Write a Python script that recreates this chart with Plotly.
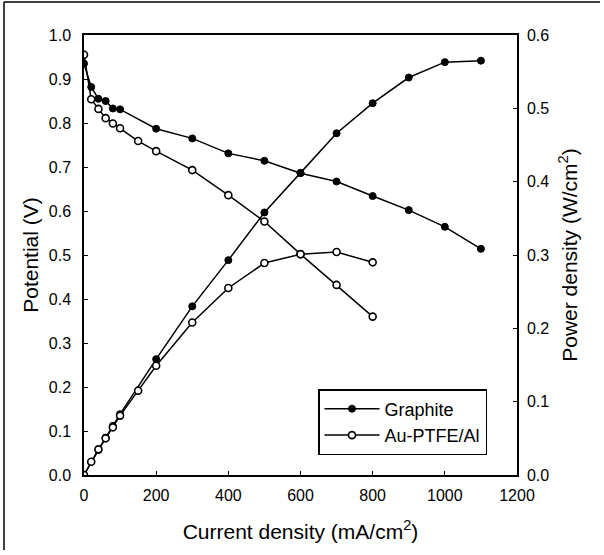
import plotly.graph_objects as go

# Current density (mA/cm2)
graphite_i = [0, 20, 40, 60, 80, 100, 200, 300, 400, 500, 600, 700, 800, 900, 1000, 1100]
graphite_v = [0.935, 0.882, 0.855, 0.850, 0.833, 0.831, 0.787, 0.765, 0.731, 0.714, 0.686, 0.667, 0.634, 0.602, 0.564, 0.514]
graphite_p = [0.0, 0.018, 0.034, 0.051, 0.067, 0.083, 0.158, 0.230, 0.293, 0.358, 0.412, 0.466, 0.507, 0.542, 0.563, 0.565]

au_i = [0, 20, 40, 60, 80, 100, 150, 200, 300, 400, 500, 600, 700, 800]
au_v = [0.955, 0.854, 0.832, 0.811, 0.799, 0.788, 0.759, 0.736, 0.693, 0.636, 0.576, 0.502, 0.432, 0.360]
au_p = [0.0, 0.018, 0.035, 0.050, 0.065, 0.081, 0.115, 0.149, 0.208, 0.255, 0.289, 0.301, 0.304, 0.290]

x_ticks = [0, 200, 400, 600, 800, 1000, 1200]
v_ticks = [0.0, 0.1, 0.2, 0.3, 0.4, 0.5, 0.6, 0.7, 0.8, 0.9, 1.0]
p_ticks = [0.0, 0.1, 0.2, 0.3, 0.4, 0.5, 0.6]

FONT = "Liberation Sans, Arial, sans-serif"
line = dict(color="black", width=1.5)
filled = dict(symbol="circle", size=7, color="black", line=dict(color="black", width=1))
opened = dict(symbol="circle", size=7, color="white", line=dict(color="black", width=1.6))

fig = go.Figure()
fig.add_trace(go.Scatter(x=graphite_i, y=graphite_v, mode="lines+markers", name="Graphite",
                         line=line, marker=filled, legendgroup="g"))
fig.add_trace(go.Scatter(x=au_i, y=au_v, mode="lines+markers", name="Au-PTFE/Al",
                         line=line, marker=opened, legendgroup="a"))
fig.add_trace(go.Scatter(x=graphite_i, y=graphite_p, mode="lines+markers", name="Graphite",
                         line=line, marker=filled, legendgroup="g", showlegend=False, yaxis="y2"))
fig.add_trace(go.Scatter(x=au_i, y=au_p, mode="lines+markers", name="Au-PTFE/Al",
                         line=line, marker=opened, legendgroup="a", showlegend=False, yaxis="y2"))

axis_common = dict(showline=True, linecolor="black", linewidth=1.5, ticks="inside",
                   ticklen=4, tickcolor="black", tickwidth=1.2, showgrid=False, zeroline=False,
                   tickfont=dict(family=FONT, size=16, color="black"))

W, H = 604, 555
L, R, T, B = 84, 87, 35, 80
pw, ph = W - L - R, H - T - B

fig.update_layout(
    width=W, height=H,
    margin=dict(l=L, r=R, t=T, b=B),
    paper_bgcolor="white", plot_bgcolor="white",
    font=dict(family=FONT, color="black"),
    xaxis=dict(range=[0, 1200], tickvals=x_ticks, ticktext=[str(t) for t in x_ticks],
               mirror=True, ticklabelstandoff=5,
               title=dict(text="Current density (mA/cm<sup>2</sup>)", font=dict(family=FONT, size=21), standoff=21),
               **axis_common),
    yaxis=dict(range=[0, 1.0], tickvals=v_ticks, ticktext=[f"{t:.1f}" for t in v_ticks],
               ticklabelstandoff=8,
               title=dict(text="Potential (V)", font=dict(family=FONT, size=21), standoff=4),
               **axis_common),
    yaxis2=dict(range=[0, 0.6], tickvals=p_ticks, ticktext=[f"{t:.1f}" for t in p_ticks],
                overlaying="y", side="right", ticklabelstandoff=5,
                title=dict(text="Power density (W/cm<sup>2</sup>)", font=dict(family=FONT, size=21), standoff=14),
                **axis_common),
    legend=dict(x=(318 - L) / pw, y=(H - B - 389) / ph, xanchor="left", yanchor="top",
                bordercolor="black", borderwidth=1.5, bgcolor="white",
                font=dict(family=FONT, size=18, color="black"),
                tracegroupgap=0, itemwidth=55),
    showlegend=True,
    shapes=[
        dict(type="line", xref="paper", yref="paper", x0=(4 - L) / pw, x1=(600 - L) / pw,
             y0=(H - B - 2) / ph, y1=(H - B - 2) / ph, line=dict(color="black", width=1.5)),
        dict(type="line", xref="paper", yref="paper", x0=(4 - L) / pw, x1=(4 - L) / pw,
             y0=(H - B - 2) / ph, y1=(H - B - 550) / ph, line=dict(color="black", width=1.5)),
    ],
)

fig.write_html("out.html", config={"displayModeBar": False},
               post_script="document.body.style.margin='0';")
